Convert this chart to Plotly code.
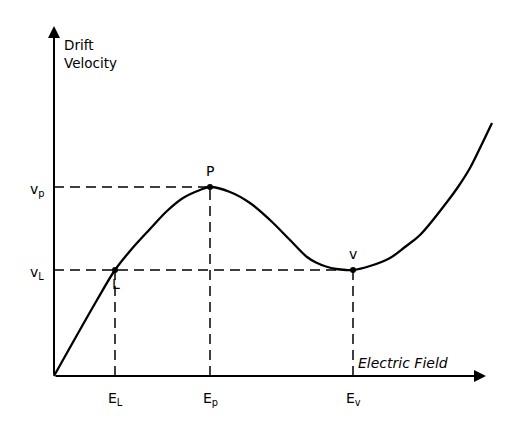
import plotly.graph_objects as go

# Characteristic curve (schematic units)
field = [0, 43, 61, 76, 96, 113, 129, 146, 156, 176, 196, 216, 236, 253, 262, 272, 282, 292, 299, 316, 336, 351, 366, 393, 404, 416, 426, 438]
velocity = [0, 76, 106, 125, 147, 165, 178, 186, 189, 184, 173, 156, 136, 119, 113.5, 109.5, 107, 106, 106, 110, 118, 129, 141, 174, 189, 208, 228, 253]

# Characteristic points
E_L, v_L = 61, 106
E_p, v_p = 156, 189
E_v, v_v = 299, 106

x_tick_labels = ["E<sub>L</sub>", "E<sub>p</sub>", "E<sub>v</sub>"]
y_tick_labels = ["v<sub>p</sub>", "v<sub>L</sub>"]

FONT = "DejaVu Sans"
fig = go.Figure()

fig.add_trace(go.Scatter(x=field, y=velocity, mode="lines",
                         line=dict(color="black", width=2.3, shape="spline", smoothing=1.0),
                         hoverinfo="skip"))
fig.add_trace(go.Scatter(x=[E_L, E_p, E_v], y=[v_L, v_p, v_v], mode="markers",
                         marker=dict(color="black", size=6), hoverinfo="skip"))

dash = dict(color="black", width=1.5, dash="10px,6px")
fig.add_shape(type="line", x0=0, x1=E_p, y0=v_p, y1=v_p, line=dash)
fig.add_shape(type="line", x0=0, x1=E_v, y0=v_L, y1=v_L, line=dash)
for xe, ye in [(E_L, v_L), (E_p, v_p), (E_v, v_v)]:
    fig.add_shape(type="line", x0=xe, x1=xe, y0=0, y1=ye, line=dash)

# axes as arrows
fig.add_annotation(x=432, y=0, ax=0, ay=0, xref="x", yref="y", axref="x", ayref="y",
                   showarrow=True, arrowhead=2, arrowsize=1.2, arrowwidth=2, arrowcolor="black", text="")
fig.add_annotation(x=0, y=350, ax=0, ay=0, xref="x", yref="y", axref="x", ayref="y",
                   showarrow=True, arrowhead=2, arrowsize=1.2, arrowwidth=2, arrowcolor="black", text="")

tf = dict(family=FONT, size=14, color="black")
for xe, lab in zip([E_L, E_p, E_v], x_tick_labels):
    fig.add_annotation(x=xe, y=-23, text=lab, showarrow=False, font=tf)
for ye, lab in zip([v_p, v_L], y_tick_labels):
    fig.add_annotation(x=-17, y=ye - 3, text=lab, showarrow=False, font=tf)

fig.add_annotation(x=E_p, y=v_p + 16, text="P", showarrow=False, font=tf)
fig.add_annotation(x=E_L + 1, y=v_L - 14, text="L", showarrow=False, font=tf)
fig.add_annotation(x=E_v, y=v_v + 16, text="v", showarrow=False, font=tf)

fig.add_annotation(x=8, y=341, text="Drift<br>Velocity", showarrow=False, align="left",
                   xanchor="left", yanchor="top", font=dict(family=FONT, size=13.5, color="black"))
fig.add_annotation(x=302, y=13, text="<i>Electric Field</i>", showarrow=False,
                   xanchor="left", font=dict(family=FONT, size=14, color="black"))

# page body has an 8px margin; ranges compensate so the origin lands where the reference has it
fig.update_layout(width=531, height=428, margin=dict(l=0, r=0, t=0, b=0),
                  plot_bgcolor="white", paper_bgcolor="white", showlegend=False,
                  xaxis=dict(range=[-46, 485], visible=False, fixedrange=True),
                  yaxis=dict(range=[-60, 368], visible=False, fixedrange=True))

fig.write_html("out.html")
